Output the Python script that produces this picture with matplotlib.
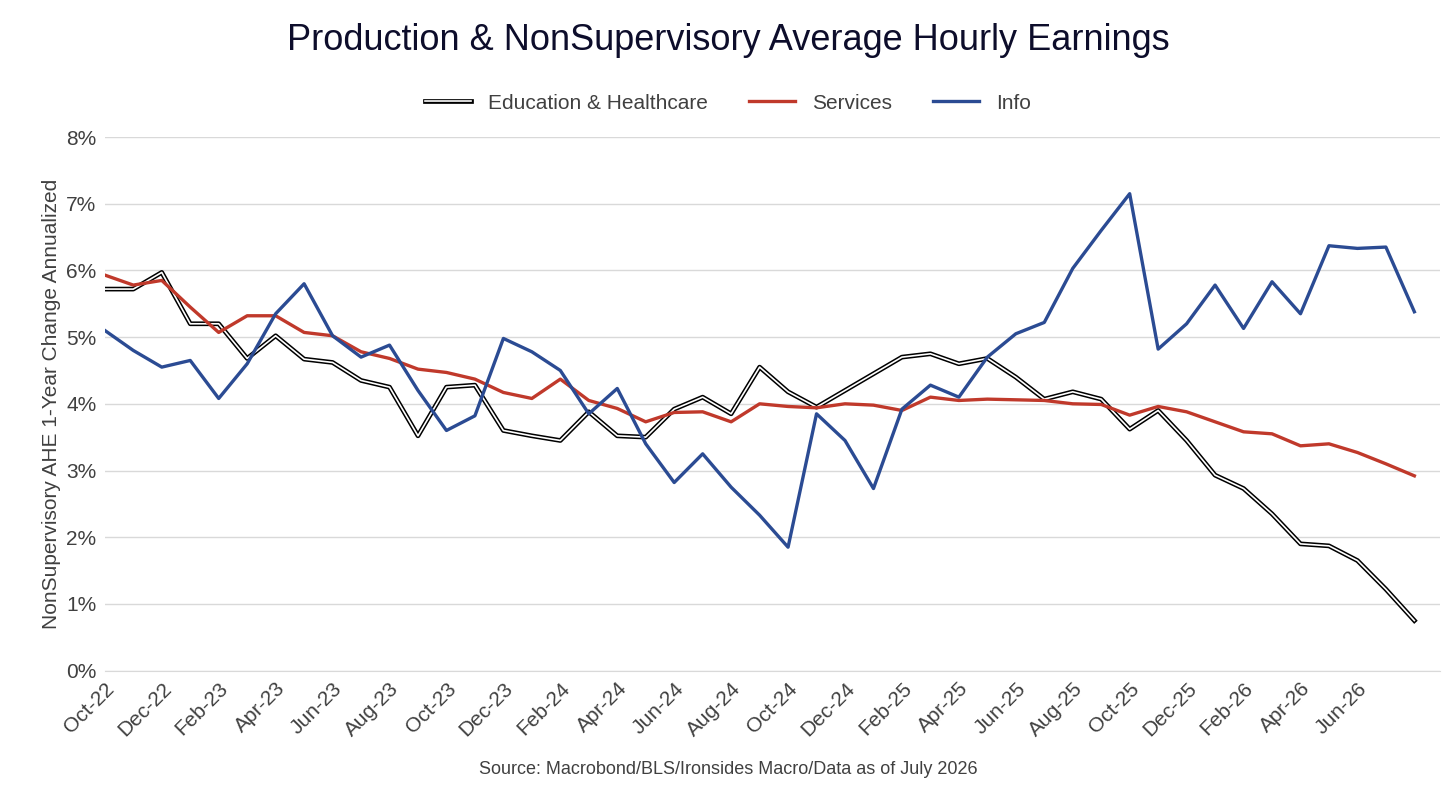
import matplotlib
matplotlib.use("Agg")
import matplotlib.pyplot as plt
import matplotlib.patheffects as pe
import pandas as pd

plt.rcParams['font.family'] = ['Liberation Sans', 'DejaVu Sans']

dates = pd.date_range("2022-10-01", periods=47, freq="MS")
info = [5.1,4.8,4.55,4.65,4.08,4.6,5.35,5.8,5.02,4.7,4.88,4.2,3.6,3.82,4.98,4.78,4.5,3.85,4.23,3.4,
        2.82,3.25,2.75,2.33,1.85,3.85,3.45,2.73,3.92,4.28,4.1,4.7,5.05,5.22,6.03,6.6,7.15,4.82,5.2,5.78,
        5.13,5.83,5.35,6.37,6.33,6.35,5.38]
services = [5.93,5.78,5.85,5.45,5.07,5.32,5.32,5.07,5.02,4.78,4.68,4.52,4.47,4.37,4.17,4.08,4.37,4.05,3.93,3.73,
            3.87,3.88,3.73,4.0,3.96,3.94,4.0,3.98,3.9,4.1,4.05,4.07,4.06,4.05,4.0,3.99,3.83,3.96,3.88,3.73,
            3.58,3.55,3.37,3.4,3.27,3.1,2.92]
edu = [5.72,5.72,5.97,5.2,5.2,4.68,5.02,4.67,4.62,4.35,4.25,3.52,4.25,4.28,3.6,3.52,3.45,3.88,3.52,3.5,
       3.92,4.1,3.85,4.55,4.18,3.95,4.2,4.45,4.7,4.75,4.6,4.68,4.4,4.07,4.18,4.07,3.62,3.9,3.45,2.93,
       2.73,2.35,1.9,1.87,1.65,1.22,0.75]

x = list(range(len(dates)))
labels = [d.strftime("%b-%y") for d in dates]

fig = plt.figure(figsize=(14.56, 8.06), dpi=100)
ax = fig.add_axes([0.072, 0.168, 0.917, 0.662])

ax.plot(x, edu, color='white', lw=1.2, label='Education & Healthcare',
        path_effects=[pe.Stroke(linewidth=3.4, foreground='black'), pe.Normal()])
ax.plot(x, services, color='#C0392B', lw=2.4, label='Services')
ax.plot(x, info, color='#2B4B93', lw=2.4, label='Info')

ax.set_ylim(0, 8)
ax.set_xlim(0, 46.9)
ax.set_yticks(range(0, 9))
ax.set_yticklabels([f"{i}%" for i in range(0, 9)], fontsize=15, color='#404040')
ax.set_xticks(x[:45:2])
ax.set_xticklabels(labels[:45:2], rotation=45, ha='right', rotation_mode='anchor', fontsize=15, color='#404040')
ax.grid(axis='y', color='#D9D9D9', lw=1)
ax.set_axisbelow(True)
for s in ['top', 'right', 'left']:
    ax.spines[s].set_visible(False)
ax.spines['bottom'].set_color('#D9D9D9')
ax.tick_params(length=0, pad=6)
ax.set_ylabel("NonSupervisory AHE 1-Year Change Annualized", fontsize=15, color='#404040')

fig.text(0.5, 0.95, "Production & NonSupervisory Average Hourly Earnings", ha='center', va='center',
         fontsize=26, color='#0D0D2B')
fig.legend(loc='center', bbox_to_anchor=(0.5, 0.872), ncol=3, frameon=False, fontsize=15,
           handlelength=2.2, columnspacing=2.0, labelcolor='#404040')
fig.text(0.5, 0.045, "Source: Macrobond/BLS/Ironsides Macro/Data as of July 2026", ha='center', va='center',
         fontsize=13, color='#404040')

fig.savefig("out.png", dpi=100)
